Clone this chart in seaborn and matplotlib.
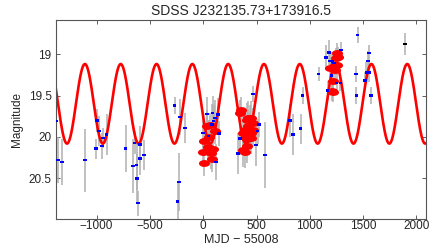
import numpy as np
import pandas as pd
import matplotlib
matplotlib.use("Agg")
import matplotlib.pyplot as plt
import matplotlib.path as mpath
import seaborn as sns

# blue photometry (MJD - 55008, magnitude, error)
blue_t = [-1382, -1360, -1326, -1110, -1007, -994, -976, -947, -938, -907,
          -729, -657, -644, -625, -619, -610, -594, -591, -553,
          -269, -241, -228, -216, -172,
          -3, 38, 50, 88, 81, 97, 113, 122, 138, 147,
          325, 344, 469, 497, 510, 525, 578,
          813, 844, 913, 932,
          1082, 1151, 1179, 1188, 1204, 1213, 1229, 1167, 1251, 1288, 1291,
          1448, 1432, 1438, 1517, 1532, 1545, 1554, 1557, 1573]
blue_mag = [19.81, 20.28, 20.30, 20.28, 20.14, 19.80, 19.93, 20.11, 20.01, 19.97,
            20.14, 20.35, 20.07, 20.34, 20.50, 20.80, 20.26, 20.09, 20.22,
            19.62, 20.78, 20.54, 19.76, 19.89,
            19.95, 19.72, 19.99, 19.71, 19.85, 19.81, 19.77, 20.30, 19.73, 19.96,
            20.20, 20.02, 19.48, 20.10, 19.93, 19.85, 20.22,
            19.80, 19.97, 19.90, 19.50,
            19.24, 19.04, 18.98, 19.08, 19.26, 19.09, 19.11, 19.44, 19.35, 19.35, 18.95,
            18.77, 19.24, 19.50, 19.32, 19.22, 19.08, 18.99, 19.22, 19.50]
blue_err = [0.12, 0.28, 0.28, 0.38, 0.12, 0.14, 0.18, 0.16, 0.12, 0.25,
            0.28, 0.32, 0.14, 0.30, 0.30, 0.15, 0.20, 0.22, 0.18,
            0.10, 0.22, 0.35, 0.22, 0.18,
            0.18, 0.20, 0.20, 0.20, 0.25, 0.20, 0.22, 0.22, 0.20, 0.15,
            0.25, 0.20, 0.10, 0.25, 0.15, 0.15, 0.40,
            0.20, 0.25, 0.18, 0.10,
            0.08, 0.15, 0.15, 0.10, 0.15, 0.12, 0.12, 0.12, 0.12, 0.10, 0.10,
            0.10, 0.10, 0.10, 0.10, 0.12, 0.12, 0.10, 0.12, 0.10]

# red photometry
red_t = [6, 0, 6, 47, 53, 31, 63, 85, 94, 110, 72,
         344, 350, 375, 391, 407, 422, 438, 453, 469, 407, 391, 422, 453,
         375, 407, 438, 469, 422, 453,
         1257, 1244, 1235, 1188, 1235, 1251, 1220, 1204, 1220, 1266]
red_mag = [20.32, 20.18, 20.05, 20.12, 20.00, 19.87, 19.86, 20.27, 20.14, 19.93, 20.19,
           19.71, 19.67, 20.16, 20.18, 20.03, 19.87, 19.79, 19.95, 19.83, 19.79, 19.91, 19.99, 20.01,
           19.95, 20.11, 19.91, 19.91, 19.77, 19.77,
           18.99, 19.05, 19.13, 19.17, 19.19, 19.13, 19.32, 19.45, 19.46, 19.03]
red_err = [0.15, 0.18, 0.18, 0.15, 0.2, 0.2, 0.15, 0.15, 0.18, 0.15, 0.2,
           0.15, 0.15, 0.2, 0.2, 0.2, 0.2, 0.18, 0.2, 0.18, 0.2, 0.2, 0.2, 0.2,
           0.2, 0.2, 0.2, 0.2, 0.2, 0.2,
           0.12, 0.12, 0.12, 0.12, 0.12, 0.12, 0.12, 0.12, 0.12, 0.12]

# black point
black_t = [1895]
black_mag = [18.88]
black_err = [0.13]

# sinusoidal model
period = 336.0
t_peak = 234.0
mean_mag = 19.6
amp = 0.48

blue = pd.DataFrame({"t": blue_t, "mag": blue_mag, "err": blue_err})
red = pd.DataFrame({"t": red_t, "mag": red_mag, "err": red_err})
black = pd.DataFrame({"t": black_t, "mag": black_mag, "err": black_err})

t_model = np.linspace(-1400, 2100, 2000)
model = pd.DataFrame({"t": t_model,
                      "mag": mean_mag - amp * np.cos(2 * np.pi * (t_model - t_peak) / period)})

sns.set_style("ticks")
plt.rcParams["font.family"] = ["Liberation Sans", "DejaVu Sans"]
plt.rcParams["xtick.direction"] = "in"
plt.rcParams["ytick.direction"] = "in"

fig = plt.figure(figsize=(4.36, 2.45), dpi=100)
ax = fig.add_axes([0.128, 0.106, 0.849, 0.812])

for d in (blue, red, black):
    ax.errorbar(d["t"], d["mag"], yerr=d["err"], fmt="none",
                ecolor="#b0b0b0", elinewidth=1.1, capsize=0, zorder=1)

sns.lineplot(data=model, x="t", y="mag", color="#ff0000", linewidth=1.9,
             ax=ax, zorder=2)

ellipse = mpath.Path(mpath.Path.unit_circle().vertices * [1.0, 0.62],
                     mpath.Path.unit_circle().codes)
ax.plot(red["t"], red["mag"], linestyle="none", marker=ellipse,
        markersize=8, color="#ff0000", markeredgewidth=0, zorder=3)

rect = mpath.Path([[-1, -0.65], [1, -0.65], [1, 0.65], [-1, 0.65], [-1, -0.65]],
                  [1, 2, 2, 2, 79])
sns.scatterplot(data=blue, x="t", y="mag", marker=rect, s=7, color="#0000ff",
                edgecolor="none", linewidth=0, ax=ax, zorder=4)
sns.scatterplot(data=black, x="t", y="mag", marker=rect, s=7, color="black",
                edgecolor="none", linewidth=0, ax=ax, zorder=4)

ax.set_xlim(-1383, 2090)
ax.set_ylim(20.99, 18.59)
ax.set_xticks([-1000, -500, 0, 500, 1000, 1500, 2000])
ax.set_yticks([19, 19.5, 20, 20.5])
ax.set_yticklabels(["19", "19.5", "20", "20.5"])
ax.tick_params(axis="both", which="both", top=True, right=True, length=3,
               width=0.6, color="#444444", labelsize=8.5, pad=3)
ax.tick_params(axis="x", pad=1)
for s in ax.spines.values():
    s.set_visible(True)
    s.set_color("#555555")
    s.set_linewidth(0.8)

ax.set_xlabel("MJD \u2212 55008", fontsize=9)
ax.xaxis.label.set_va("center")
ax.xaxis.set_label_coords(0.5, -0.106)
ax.set_ylabel("Magnitude", fontsize=8.5, labelpad=4)
ax.set_title("SDSS J232135.73+173916.5", fontsize=10, pad=4)

fig.savefig("out.png", dpi=100)
